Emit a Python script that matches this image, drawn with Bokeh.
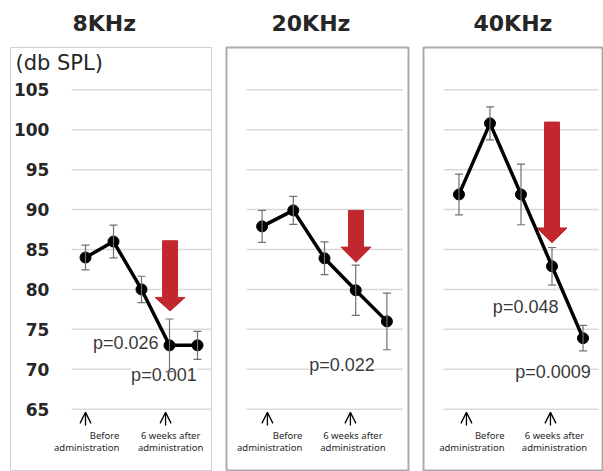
from bokeh.plotting import figure
from bokeh.models import Range1d, ColumnDataSource, Whisker, TeeHead, Arrow, OpenHead, Grid, Title
from bokeh.layouts import row
from bokeh.embed import file_html
from bokeh.resources import INLINE
from bokeh.core.properties import value

# ---------------- data ----------------
time_idx = [0, 1, 2, 3, 4]
titles = ["8KHz", "20KHz", "40KHz"]
khz8 = [84.0, 86.0, 80.0, 73.0, 73.0]
err8 = [1.55, 2.05, 1.65, 3.3, 1.75]
khz20 = [87.9, 89.9, 83.9, 79.9, 76.0]
err20 = [2.0, 1.75, 2.05, 3.15, 3.55]
khz40 = [91.9, 100.8, 91.9, 82.9, 73.9]
err40 = [2.55, 2.07, 3.8, 2.35, 1.6]
y_ticks = [65, 70, 75, 80, 85, 90, 95, 100, 105]
y_tick_labels = ["65", "70", "75", "80", "85", "90", "95", "100", "105"]
unit_label = "(db SPL)"
p_labels = [
    [("p=0.026", 2.61, 73.3, "right"), ("p=0.001", 2.80, 69.3, "center")],
    [("p=0.022", 2.56, 70.6, "center")],
    [("p=0.048", 2.15, 77.8, "center"), ("p=0.0009", 3.03, 69.7, "center")],
]
before_lines = ["Before", "administration"]
after_lines = ["6 weeks after", "administration"]

# ---------------- layout / style ----------------
H = 471
panels = [
    dict(w=218, bl=10, br=7, x0=-2.679, x1=4.5, px=28.0, outline="#d0d0d0", ow=1,
         title_off=62, arr=(3.02, 86.1, 79.0, 77.3),
         up=(0.0, 2.86), before_x=1.21, after_x=3.04),
    dict(w=197, bl=8, br=7, x0=-1.141, x1=4.692, px=31.2, outline="#ababab", ow=2,
         title_off=45, arr=(3.01, 89.9, 85.3, 83.4),
         up=(0.17, 2.83), before_x=1.29, after_x=2.91),
    dict(w=188, bl=8, br=0, x0=-1.145, x1=4.661, px=31.0, outline="#ababab", ow=2,
         title_off=50, arr=(3.0, 100.96, 87.7, 85.85),
         up=(0.24, 2.95), before_x=1.47, after_x=3.08),
]
series = [(khz8, err8), (khz20, err20), (khz40, err40)]

figs = []
for i, cfg in enumerate(panels):
    vals, errs = series[i]
    p = figure(width=cfg["w"], height=H, output_backend="svg", toolbar_location=None,
               x_axis_location=None, y_axis_location=None,
               x_range=Range1d(cfg["x0"], cfg["x1"]), y_range=Range1d(57.2, 110.3),
               min_border_left=cfg["bl"], min_border_right=cfg["br"],
               min_border_top=47, min_border_bottom=0)
    for r in list(p.center):
        if isinstance(r, Grid):
            r.visible = False
    p.outline_line_color = cfg["outline"]
    p.outline_line_width = cfg["ow"]
    p.background_fill_color = "white"
    p.border_fill_color = "white"
    p.title = None
    # spacer between frame and title
    p.add_layout(Title(text=" ", text_font_size="4px", standoff=0), "above")
    p.add_layout(Title(text=titles[i], align="left", offset=cfg["title_off"],
                       text_font="DejaVu Sans", text_font_size="22px",
                       text_font_style="bold", text_color="#262626"), "above")

    # gridlines
    p.segment(x0=-0.5, x1=4.5, y0=y_ticks, y1=y_ticks, line_color="#d9d9d9", line_width=1.5)

    if i == 0:
        p.text(x=[-1.29] * len(y_ticks), y=y_ticks, text=y_tick_labels,
               text_align="right", text_baseline="middle", text_font=value("DejaVu Sans"),
               text_font_size="17px", text_font_style="bold", text_color="#262626")
        p.text(x=[-2.5], y=[108.3], text=[unit_label], text_align="left",
               text_baseline="middle", text_font=value("DejaVu Sans"),
               text_font_size="21px", text_color="#262626")

    # red arrow
    cx, top, hs, tip = cfg["arr"]
    sw = 7.5 / cfg["px"]
    hw = 15.0 / cfg["px"]
    p.patch(x=[cx - sw, cx + sw, cx + sw, cx + hw, cx, cx - hw, cx - sw],
            y=[top, top, hs, hs, tip, hs, hs], fill_color="#c1272d", line_color="#c1272d")

    # error bars
    src = ColumnDataSource(dict(x=time_idx, y=vals,
                                upper=[v + e for v, e in zip(vals, errs)],
                                lower=[v - e for v, e in zip(vals, errs)]))
    w = Whisker(base="x", upper="upper", lower="lower", source=src,
                line_color="#707070", line_width=1.2,
                upper_head=TeeHead(size=8, line_color="#707070", line_width=1.2),
                lower_head=TeeHead(size=8, line_color="#707070", line_width=1.2))
    w.level = "glyph"
    p.add_layout(w)

    p.line("x", "y", source=src, line_color="black", line_width=3.5)
    p.scatter("x", "y", source=src, size=11, fill_color="black", line_color="black")

    # p-value labels
    for txt, tx, ty, al in p_labels[i]:
        p.text(x=[tx], y=[ty], text=[txt], text_align=al, text_baseline="middle",
               text_font=value("Liberation Sans"), text_font_size="18px",
               text_color="#3a3a3a", background_fill_color="white")

    # bottom labels
    for ux in cfg["up"]:
        p.add_layout(Arrow(x_start=ux, y_start=62.95, x_end=ux, y_end=64.6,
                           line_color="black", line_width=1.3,
                           end=OpenHead(size=11, line_color="black", line_width=1.3)))
    p.text(x=[cfg["before_x"]] * 2, y=[61.7, 60.2], text=before_lines, text_align="right",
           text_baseline="middle", text_font=value("Noto Sans"), text_font_size="9.5px",
           text_color="#262626")
    p.text(x=[cfg["after_x"]] * 2, y=[61.7, 60.2], text=after_lines, text_align="center",
           text_baseline="middle", text_font=value("Noto Sans"), text_font_size="9.5px",
           text_color="#262626")
    figs.append(p)

layout = row(*figs)
open("out.html", "w").write(file_html(layout, INLINE))
